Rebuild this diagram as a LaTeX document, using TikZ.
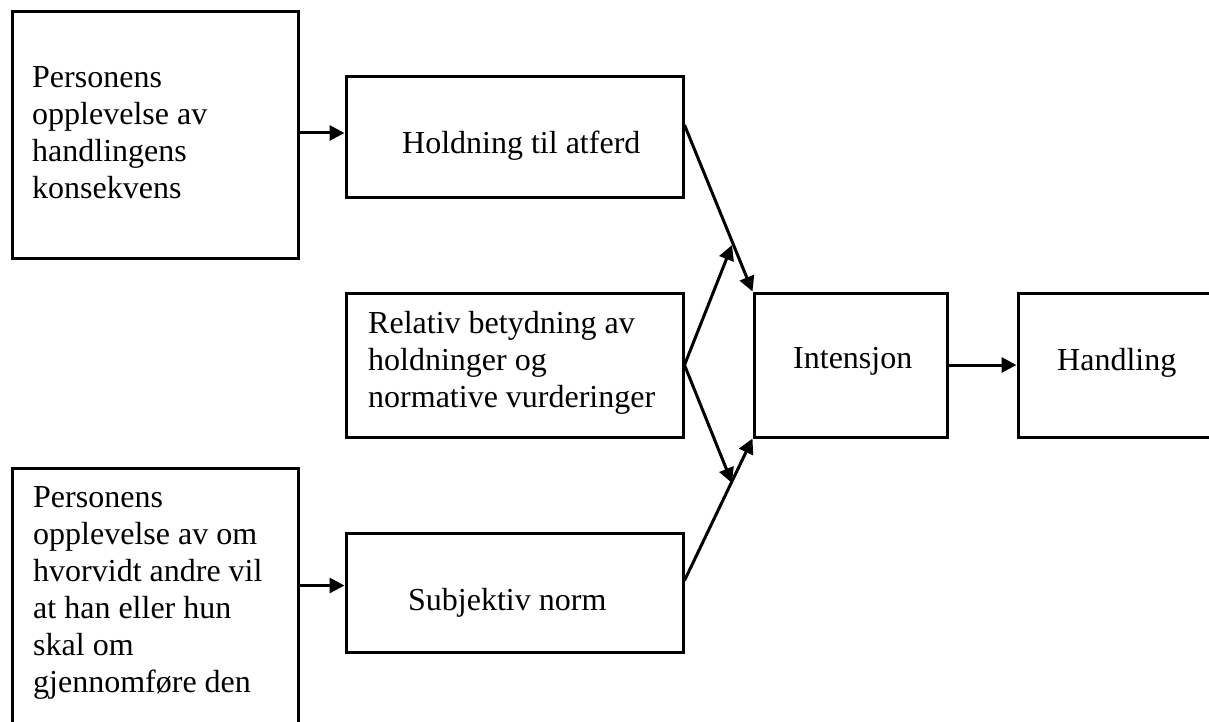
\documentclass[tikz,border=0pt]{standalone}
\usepackage{fontspec}
\setmainfont{Liberation Serif}
\usetikzlibrary{arrows.meta,fit,calc}
\begin{document}
\begin{tikzpicture}[x=1pt,y=-1pt,
  box/.style={draw, line width=3pt, inner sep=0pt},
  txt/.style={anchor=base west, align=left, inner sep=0pt, font=\fontsize{32}{37}\selectfont},
  arr/.style={line width=3pt, -{Triangle[length=15pt,width=15pt]}}]
\useasboundingbox (0,0) rectangle (1209,722);
\clip (0,0) rectangle (1209,722);
\node[box, fit={(12,12)(298,258)}] (A) {};
\node[box, fit={(346,77)(683,197)}] (B) {};
\node[box, fit={(346,293)(683,437)}] (C) {};
\node[box, fit={(12,468)(298,760)}] (D) {};
\node[box, fit={(346,533)(683,652)}] (E) {};
\node[box, fit={(754,293)(947,437)}] (I) {};
\node[box, fit={(1018,293)(1240,437)}] (H) {};

\node[txt] (tA) at (32,199) {Personens\\opplevelse av\\handlingens\\konsekvens};
\node[txt] (tB) at (402,154) {Holdning til atferd};
\node[txt] (tC) at (368,407) {Relativ betydning av\\holdninger og\\normative vurderinger};
\node[txt] (tD) at (33,692) {Personens\\opplevelse av om\\hvorvidt andre vil\\at han eller hun\\skal om\\gjennomføre den};
\node[txt] (tE) at (408,610) {Subjektiv norm};
\node[txt] (tI) at (793,368) {Intensjon};
\node[txt] (tH) at (1057,370) {Handling};

\coordinate (c1) at (732,245);
\coordinate (c2) at (732,483);

\draw[arr] ($(A.east)+(0,-2)$) -- ($(A.east -| B.west)+(0,-2)$);
\draw[arr] ($(D.north east)+(0,119)$) -- ($(D.north east -| E.west)+(0,119)$);
\draw[arr] ($(B.east)+(0,-12)$) -- (I.north west);
\draw[arr] (C.east) -- (c1);
\draw[arr] (C.east) -- (c2);
\draw[arr] ($(E.east)+(0,-12)$) -- (I.south west);
\draw[arr] (I.east) -- (H.west);
\end{tikzpicture}
\end{document}
